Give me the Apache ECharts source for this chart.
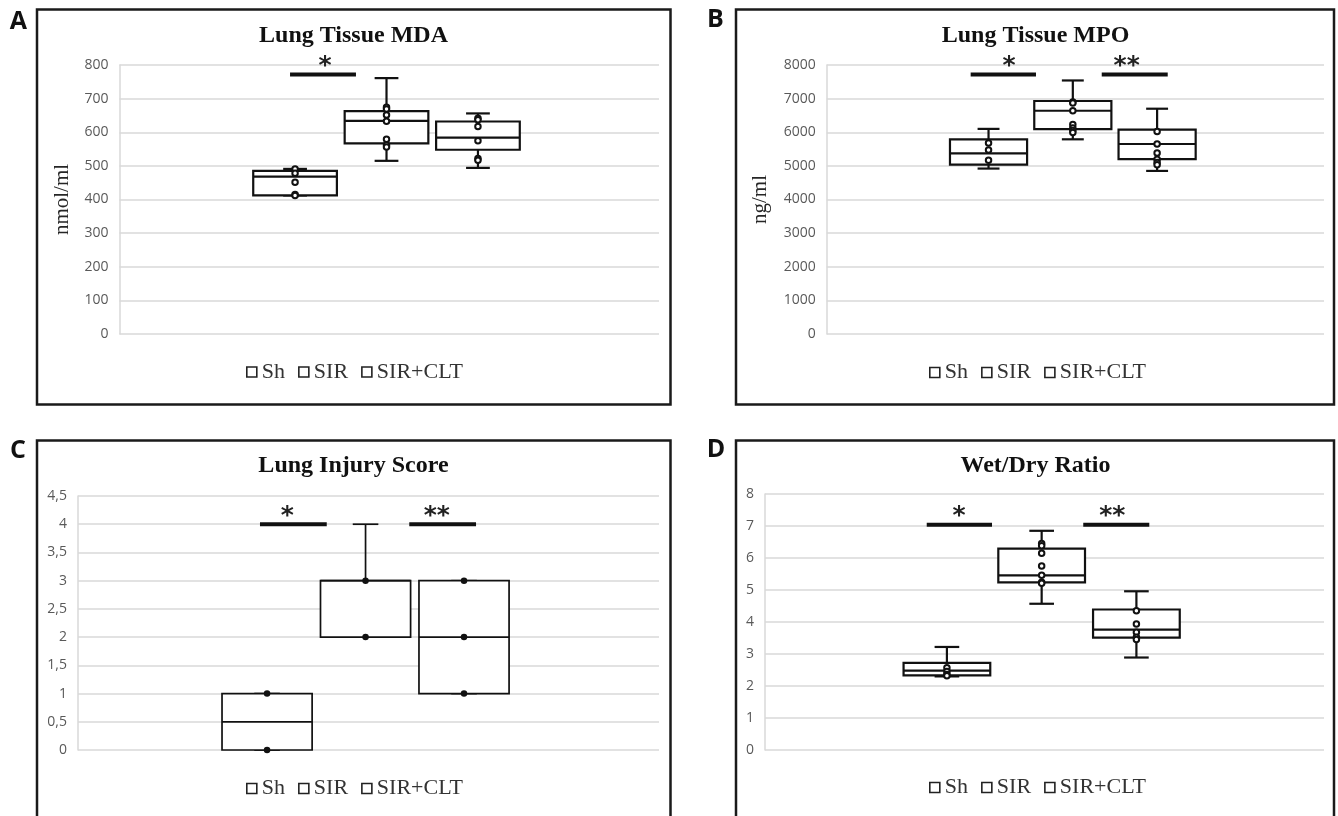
<!DOCTYPE html>
<html>
<head>
<meta charset="utf-8">
<script src="https://cdn.jsdelivr.net/npm/echarts@6/dist/echarts.min.js"></script>
<style>
html,body{margin:0;padding:0;background:#fff;}
#chart{width:1338px;height:816px;}
</style>
</head>
<body>
<div id="chart"></div>
<script>
// ---- data ----
const groups = ['Sh', 'SIR', 'SIR+CLT'];
// five-number summaries per group: [min, q1, median, q3, max]
const mdaBoxes = [[412, 412, 468, 485, 491], [515, 567, 634, 663, 761], [494, 548, 584, 632, 656]];
const mdaPoints = [[491, 478, 451, 415, 412], [674, 669, 651, 633, 579, 562, 556], [642, 637, 617, 575, 522, 517]];
const mpoBoxes = [[4920, 5040, 5370, 5790, 6100], [5790, 6090, 6640, 6930, 7540], [4850, 5200, 5650, 6080, 6700]];
const mpoPoints = [[5680, 5470, 5170], [6900, 6870, 6640, 6230, 6130, 6050, 5990], [6020, 5650, 5380, 5200, 5100, 5030]];
const injuryBoxes = [[0, 0, 0.5, 1, 1], [2, 2, 3, 3, 4], [1, 1, 2, 3, 3]];
const injuryPoints = [[1, 0], [3, 2], [3, 2, 1]];
const ratioBoxes = [[2.30, 2.33, 2.48, 2.72, 3.22], [4.57, 5.24, 5.46, 6.29, 6.85], [2.89, 3.51, 3.76, 4.39, 4.96]];
const ratioPoints = [[2.57, 2.45, 2.36, 2.32], [6.45, 6.38, 6.15, 5.75, 5.46, 5.24, 5.21], [4.35, 3.94, 3.68, 3.52, 3.45]];
// significance annotations: [fromX, toX, value, labelX] in group units (Sh=1, SIR=2, SIR+CLT=3)
const mdaSig = [[0.945, 1.666, 772, 1.327]];
const mdaSigText = ['*'];
const mpoSig = [[0.788, 1.563, 7720, 1.243], [2.343, 3.126, 7720, 2.639]];
const mpoSigText = ['*', '**'];
const injurySig = [[0.928, 1.606, 4.0, 1.206], [2.444, 3.122, 4.0, 2.723]];
const injurySigText = ['*', '**'];
const ratioSig = [[0.787, 1.476, 7.04, 1.127], [2.439, 3.136, 7.04, 2.745]];
const ratioSigText = ['*', '**'];

// ---- layout / style config ----
const panels = [
  {letter: 'A', title: 'Lung Tissue MDA', yName: 'nmol/ml', nameGap: 47, boxes: mdaBoxes, points: mdaPoints, sig: mdaSig, sigText: mdaSigText,
   max: 800, interval: 100, grid: {left: 119.5, top: 65, width: 539.5, height: 269}, legend: {left: 246, top: 361},
   frame: {x: 37, y: 9.5, width: 633.5, height: 395}, letterPos: [18.3, 22], titlePos: [353.5, 35.5], lw: 2.2, filled: false},
  {letter: 'B', title: 'Lung Tissue MPO', yName: 'ng/ml', nameGap: 56, boxes: mpoBoxes, points: mpoPoints, sig: mpoSig, sigText: mpoSigText,
   max: 8000, interval: 1000, grid: {left: 826.7, top: 65, width: 497.3, height: 269}, legend: {left: 929, top: 361.5},
   frame: {x: 736, y: 9.5, width: 598, height: 395}, letterPos: [715.3, 19.5], titlePos: [1035.5, 35.5], lw: 2.2, filled: false},
  {letter: 'C', title: 'Lung Injury Score', yName: '', nameGap: 40, boxes: injuryBoxes, points: injuryPoints, sig: injurySig, sigText: injurySigText,
   max: 4.5, interval: 0.5, grid: {left: 78, top: 496, width: 581, height: 254}, legend: {left: 246, top: 777.5},
   frame: {x: 37, y: 440.5, width: 633.5, height: 420}, letterPos: [18, 451], titlePos: [353.5, 465.5], lw: 1.7, filled: true, comma: true},
  {letter: 'D', title: 'Wet/Dry Ratio', yName: '', nameGap: 40, boxes: ratioBoxes, points: ratioPoints, sig: ratioSig, sigText: ratioSigText,
   max: 8, interval: 1, grid: {left: 765, top: 494, width: 559, height: 256}, legend: {left: 929, top: 776.5},
   frame: {x: 736, y: 440.5, width: 598, height: 420}, letterPos: [716, 449.5], titlePos: [1035.5, 465.5], lw: 2.2, filled: false}
];

const BOX_W = 0.915, CAP_W = 0.26;
const X_MIN = -0.92, X_MAX = 4.98;

function boxRenderer(lw) {
  return function (params, api) {
    const x = api.value(0);
    const p = [1, 2, 3, 4, 5].map(i => api.coord([x, api.value(i)]));
    const cx = p[0][0];
    const yMin = p[0][1], yQ1 = p[1][1], yMed = p[2][1], yQ3 = p[3][1], yMax = p[4][1];
    const w = api.size([BOX_W, 0])[0];
    const cw = api.size([CAP_W, 0])[0];
    const st = {stroke: '#111', lineWidth: lw, fill: null};
    return {type: 'group', children: [
      {type: 'line', shape: {x1: cx, y1: yQ3, x2: cx, y2: yMax}, style: st},
      {type: 'line', shape: {x1: cx - cw / 2, y1: yMax, x2: cx + cw / 2, y2: yMax}, style: st},
      {type: 'line', shape: {x1: cx, y1: yQ1, x2: cx, y2: yMin}, style: st},
      {type: 'line', shape: {x1: cx - cw / 2, y1: yMin, x2: cx + cw / 2, y2: yMin}, style: st},
      {type: 'rect', shape: {x: cx - w / 2, y: yQ3, width: w, height: yQ1 - yQ3}, style: {stroke: '#111', lineWidth: lw, fill: '#fff'}},
      {type: 'line', shape: {x1: cx - w / 2, y1: yMed, x2: cx + w / 2, y2: yMed}, style: st}
    ]};
  };
}

function sigRenderer(texts) {
  return function (params, api) {
    const a = api.coord([api.value(0), api.value(2)]);
    const b = api.coord([api.value(1), api.value(2)]);
    const t = api.coord([api.value(3), api.value(2)]);
    return {type: 'group', children: [
      {type: 'line', shape: {x1: a[0], y1: a[1], x2: b[0], y2: b[1]}, style: {stroke: '#111', lineWidth: 4}},
      {type: 'text', style: {text: texts[params.dataIndex], x: t[0], y: a[1] - 8, align: 'center', verticalAlign: 'middle',
        font: 'bold 25px "DejaVu Sans"', fill: '#222'}}
    ]};
  };
}

const option = {
  animation: false,
  grid: [], xAxis: [], yAxis: [], series: [], legend: [], graphic: []
};

panels.forEach((pn, k) => {
  option.grid.push(Object.assign({containLabel: false}, pn.grid));
  option.xAxis.push({type: 'value', gridIndex: k, min: X_MIN, max: X_MAX, show: false});
  option.yAxis.push({
    type: 'value', gridIndex: k, min: 0, max: pn.max, interval: pn.interval,
    name: pn.yName, nameLocation: 'middle', nameGap: pn.nameGap,
    nameTextStyle: {fontFamily: 'Liberation Serif', fontSize: 21, color: '#262626'},
    axisLine: {show: true, onZero: false, lineStyle: {color: '#d9d9d9', width: 1.5}},
    axisTick: {show: false},
    axisLabel: {margin: 11, fontFamily: 'Open Sans', fontSize: 14, color: '#595959',
      formatter: v => pn.comma ? String(v).replace('.', ',') : String(v)},
    splitLine: {show: true, lineStyle: {color: '#d9d9d9', width: 1.5}}
  });
  groups.forEach((g, i) => {
    option.series.push({
      type: 'custom', name: g, xAxisIndex: k, yAxisIndex: k, z: 2,
      renderItem: boxRenderer(pn.lw),
      encode: {x: 0, y: [1, 2, 3, 4, 5]},
      data: [[i + 1].concat(pn.boxes[i])]
    });
  });
  groups.forEach((g, i) => {
    option.series.push({
      type: 'scatter', name: g + ' values', xAxisIndex: k, yAxisIndex: k, z: 3,
      symbol: 'circle', symbolSize: pn.filled ? 6.5 : 5.5,
      itemStyle: pn.filled ? {color: '#111', borderWidth: 0, opacity: 1} : {color: '#fff', borderColor: '#111', borderWidth: 2, opacity: 1},
      data: pn.points[i].map(v => [i + 1, v])
    });
  });
  option.series.push({
    type: 'custom', name: 'sig' + k, xAxisIndex: k, yAxisIndex: k, z: 4,
    renderItem: sigRenderer(pn.sigText),
    encode: {x: [0, 1], y: 2},
    data: pn.sig
  });
  option.legend.push({
    left: pn.legend.left, top: pn.legend.top, padding: 0, orient: 'horizontal',
    itemWidth: 10, itemHeight: 10, itemGap: 13, icon: 'rect', selectedMode: false,
    data: groups,
    itemStyle: {color: '#fff', borderColor: '#222', borderWidth: 1.6},
    textStyle: {fontFamily: 'Liberation Serif', fontSize: 22, color: '#333', lineHeight: 22}
  });
  option.graphic.push({
    type: 'rect', z: 10, silent: true,
    shape: pn.frame,
    style: {stroke: '#1a1a1a', lineWidth: 2.5, fill: null}
  });
  option.graphic.push({
    type: 'text', x: pn.letterPos[0], y: pn.letterPos[1], silent: true,
    style: {text: pn.letter, font: 'bold 25px "Open Sans"', fill: '#111', align: 'center', verticalAlign: 'middle'}
  });
  option.graphic.push({
    type: 'text', x: pn.titlePos[0], y: pn.titlePos[1], silent: true,
    style: {text: pn.title, font: 'bold 24px "Liberation Serif"', fill: '#111', align: 'center', verticalAlign: 'middle'}
  });
});

const chart = echarts.init(document.getElementById('chart'), null, {renderer: 'canvas'});
chart.setOption(option);
</script>
</body>
</html>
